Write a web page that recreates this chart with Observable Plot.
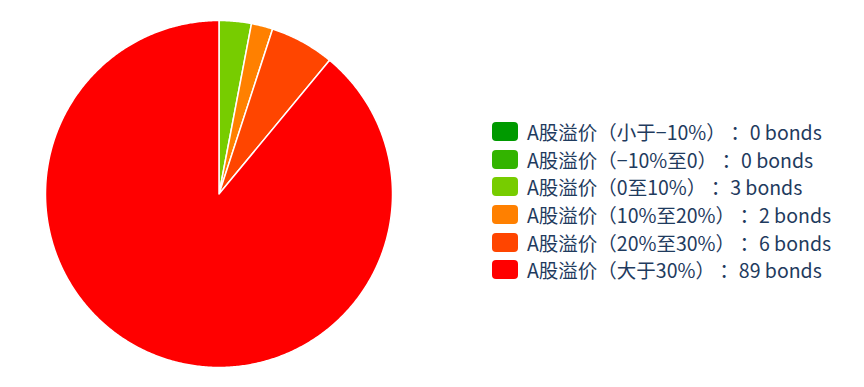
<!DOCTYPE html>
<html>
<head>
<meta charset="utf-8">
<script src="https://cdn.jsdelivr.net/npm/d3@7"></script>
<script src="https://cdn.jsdelivr.net/npm/@observablehq/plot@0.6"></script>
<style>
  body { margin: 0; background: #fff; }
  #wrap { position: relative; width: 864px; height: 387px; overflow: hidden; }
  #legend { position: absolute; left: 492px; top: 118px; font-family: "Noto Sans CJK SC", "Noto Sans", sans-serif; font-size: 19.5px; color: #1f3b5e; text-spacing-trim: space-all; }
  .row { display: flex; align-items: center; height: 27.6px; white-space: nowrap; }
  .sw { width: 26px; height: 19px; border-radius: 4px; margin-right: 9px; flex: none; }
</style>
</head>
<body>
<div id="wrap"><div id="legend"></div></div>
<script>
// Premium buckets of A-share price over bond conversion value
const categories = [
  "A股溢价（小于−10%）",
  "A股溢价（−10%至0）",
  "A股溢价（0至10%）",
  "A股溢价（10%至20%）",
  "A股溢价（20%至30%）",
  "A股溢价（大于30%）"
];
const counts = [0, 0, 3, 2, 6, 89];
const colors = ["#009a00", "#33b400", "#77cc00", "#ff8000", "#ff4500", "#ff0000"];

// Slice angles (0 at 12 o'clock, clockwise)
const arcs = d3.pie().sort(null).value(d => d.count)(
  categories.map((cat, i) => ({cat, count: counts[i]}))
).filter(a => a.data.count > 0);

// Each slice as a closed polygon in unit-circle coordinates
const pts = [];
for (const a of arcs) {
  const cat = a.data.cat;
  pts.push({cat, x: 0, y: 0});
  const n = Math.max(2, Math.ceil((a.endAngle - a.startAngle) / (Math.PI / 360)));
  for (let k = 0; k <= n; k++) {
    const t = a.startAngle + (a.endAngle - a.startAngle) * k / n;
    pts.push({cat, x: Math.sin(t), y: Math.cos(t)});
  }
  pts.push({cat, x: 0, y: 0});
}

const chart = Plot.plot({
  width: 864,
  height: 387,
  marginLeft: 45,
  marginRight: 472,
  marginTop: 20,
  marginBottom: 20,
  x: {domain: [-1, 1], axis: null},
  y: {domain: [-1, 1], axis: null},
  color: {domain: categories, range: colors},
  marks: [
    Plot.line(pts, {x: "x", y: "y", z: "cat", fill: "cat", stroke: "white", strokeWidth: 1.5, strokeLinejoin: "round", curve: "linear"})
  ]
});
document.getElementById("wrap").prepend(chart);

// Legend
const legend = d3.select("#legend");
categories.forEach((cat, i) => {
  const row = legend.append("div").attr("class", "row");
  row.append("div").attr("class", "sw").style("background", colors[i]);
  row.append("span").text(`${cat} ：${counts[i]} bonds`);
});
</script>
</body>
</html>
